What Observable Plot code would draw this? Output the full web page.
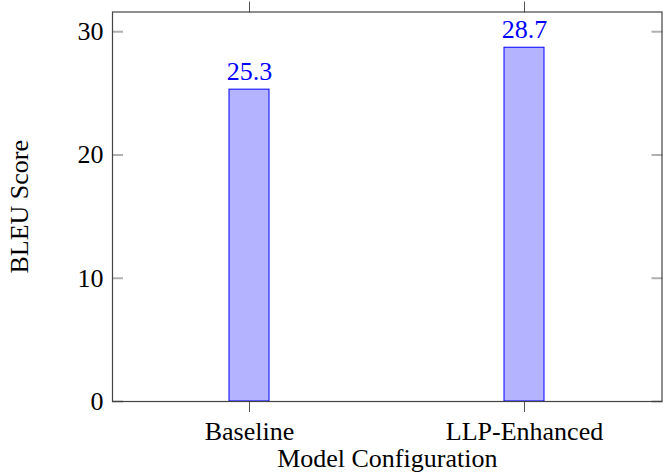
<!DOCTYPE html>
<html>
<head>
<meta charset="utf-8">
<script src="https://cdn.jsdelivr.net/npm/d3@7"></script>
<script src="https://cdn.jsdelivr.net/npm/@observablehq/plot@0.6"></script>
<style>
  html, body { margin: 0; padding: 0; background: #fff; }
  #chart svg, #chart svg text { font-family: "Liberation Serif", Tinos, "Nimbus Roman", "Nimbus Roman No9 L", "DejaVu Serif" !important; }
</style>
</head>
<body>
<div id="chart"></div>
<script>
const configs = ["Baseline", "LLP-Enhanced"];
const bleu = [25.3, 28.7];
const yTicks = [0, 10, 20, 30];
const xLabel = "Model Configuration";
const yLabel = "BLEU Score";

const data = configs.map((c, i) => ({config: c, bleu: bleu[i]}));
const FONT = "Liberation Serif";

const chart = Plot.plot({
  width: 668,
  height: 473,
  marginLeft: 112,
  marginRight: 6.5,
  marginTop: 11.5,
  marginBottom: 72,
  style: {fontSize: "26px", background: "#fff", color: "#000"},
  x: {type: "band", domain: configs, paddingInner: 0.8545, paddingOuter: 0.426, axis: null},
  y: {domain: [0, 31.6], axis: null},
  marks: [
    Plot.barY(data, {x: "config", y: "bleu", fill: "#b3b3ff", stroke: "#0000ff", strokeWidth: 1}),
    Plot.text(data, {x: "config", y: "bleu", text: d => d.bleu.toFixed(1), dy: -18.3, lineAnchor: "middle", fill: "#0000ff", fontSize: 26}),
    Plot.axisY({ticks: yTicks, anchor: "left", stroke: "none", tickSize: 0, tickPadding: 9, fontSize: 26, label: null}),
    Plot.axisY({ticks: yTicks, anchor: "left", fill: "none", tickSize: -11, stroke: "#b0b0b0", strokeWidth: 2, label: null}),
    Plot.axisY({ticks: yTicks, anchor: "right", fill: "none", tickSize: -11, stroke: "#b0b0b0", strokeWidth: 2, label: null}),
    Plot.axisX({anchor: "bottom", tickSize: 11, tickPadding: 9.5, stroke: "#555", strokeWidth: 1, fontSize: 26, label: null}),
    Plot.axisX({anchor: "top", fill: "none", tickSize: 11, stroke: "#555", strokeWidth: 1, label: null}),
    Plot.frame({stroke: "#444", strokeWidth: 1.2}),
    Plot.text([xLabel], {frameAnchor: "bottom", text: d => d, dy: 56.7, textAnchor: "middle", lineAnchor: "middle", fontSize: 26, fill: "#000"}),
    Plot.text([yLabel], {frameAnchor: "left", text: d => d, dx: -93.3, rotate: -90, textAnchor: "middle", lineAnchor: "middle", fontSize: 26, fill: "#000"})
  ]
});
document.getElementById("chart").appendChild(chart);
</script>
</body>
</html>
